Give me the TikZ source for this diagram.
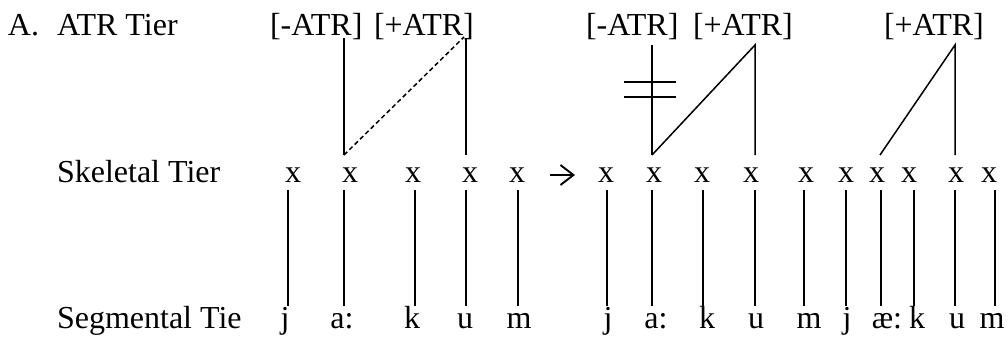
\documentclass[tikz,border=0pt]{standalone}
\usepackage{fontspec}
\setmainfont{Liberation Serif}
\usetikzlibrary{arrows.meta,calc}
\begin{document}
\begin{tikzpicture}[x=1pt,y=-1pt,
  txt/.style={font=\fontsize{32pt}{38pt}\selectfont, inner sep=0pt, outer sep=0pt},
  lbl/.style={txt, anchor=base west},
  skel/.style={txt, anchor=base, text height=27pt, text depth=8pt},
  seg/.style={txt, anchor=base, text height=22pt, text depth=0pt},
  feat/.style={lbl, text depth=#1},
  assoc/.style={line width=1.5pt},
  delinked/.style={line width=1.5pt},
  spread/.style={line width=1.5pt, dash pattern=on 4.5pt off 3pt},
  rulearrow/.style={line width=1.9pt, -{Straight Barb[length=13pt,width=20pt]}}]
\useasboundingbox (0,0) rectangle (1008,337);

% tier labels
\node[lbl] (A) at (8,36) {A.};
\node[lbl] (atrT) at (57,36) {ATR Tier};
\node[lbl] (skT) at (57,182) {Skeletal Tier};
\node[lbl] (sgT) at (57,328) {Segmental Tie};

% feature nodes
\node[feat=2pt] (a1) at (270,36) {[-ATR]};
\node[feat=2pt] (a2) at (374,36) {[+ATR]};
\node[feat=9pt] (a3) at (586,36) {[-ATR]};
\node[feat=9pt] (a4) at (693,36) {[+ATR]};
\node[feat=9pt] (a5) at (884,36) {[+ATR]};

% skeletal and segmental nodes
\foreach \i/\X/\S/\t in {1/293/285/j, 2/350/342/a:, 3/413/412/k, 4/470/465/u, 5/517/519/m,
  6/606/608/j, 7/654/656/a:, 8/702/707/k, 9/751/756/u, 10/806/809/m,
  11/846/847/j, 12/877/887/æ:, 13/909/917/k, 14/956/957/u, 15/989/992/m}
{
  \node[skel] (x\i) at (\X,182) {x};
  \node[seg] (s\i) at (\S,328) {\t};
}

% skeleton-to-segment association lines
\foreach \i/\d in {1/-5, 2/-6, 3/2, 4/-4, 5/1, 6/1, 7/-2, 8/1, 9/4, 10/-2,
  11/0, 12/4, 13/5, 14/-1, 15/6}
{
  \draw[assoc] ($(x\i.south)+(\d pt,0)$) -- ($(x\i.south |- s\i.north)+(\d pt,0)$);
}

% left ATR associations
\draw[assoc] ($(x2.north)+(-6pt,0)$) -- ($(x2.north |- a1.south)+(-6pt,0)$);
\draw[assoc] ($(x4.north)+(-4pt,0)$) -- ($(x4.north |- a2.south)+(-4pt,0)$);
\draw[spread] ($(x2.north)+(-6pt,0)$) -- ($(x4.north |- a2.south)+(-6pt,1pt)$);

% arrow
\draw[rulearrow] ($(x5.east)+(25pt,-2.5pt)$) -- ($(x6.west)+(-23pt,-2.5pt)$);

% right ATR associations
\draw[assoc] ($(x7.north)+(-2pt,0)$) -- ($(x7.north |- a3.south)+(-2pt,0)$);
\draw[delinked] ($(x7.north)+(-30pt,73pt)$) -- ($(x7.north)+(22pt,73pt)$);
\draw[delinked] ($(x7.north)+(-30pt,58pt)$) -- ($(x7.north)+(22pt,58pt)$);
\draw[assoc] ($(x7.north)+(-2pt,0)$) -- ($(x9.north |- a4.south)+(4pt,0)$) -- ($(x9.north)+(4pt,0)$);
\draw[assoc] ($(x12.north)+(3pt,0)$) -- ($(x14.north |- a5.south)+(-1pt,0)$) -- ($(x14.north)+(-1pt,0)$);
\end{tikzpicture}
\end{document}
